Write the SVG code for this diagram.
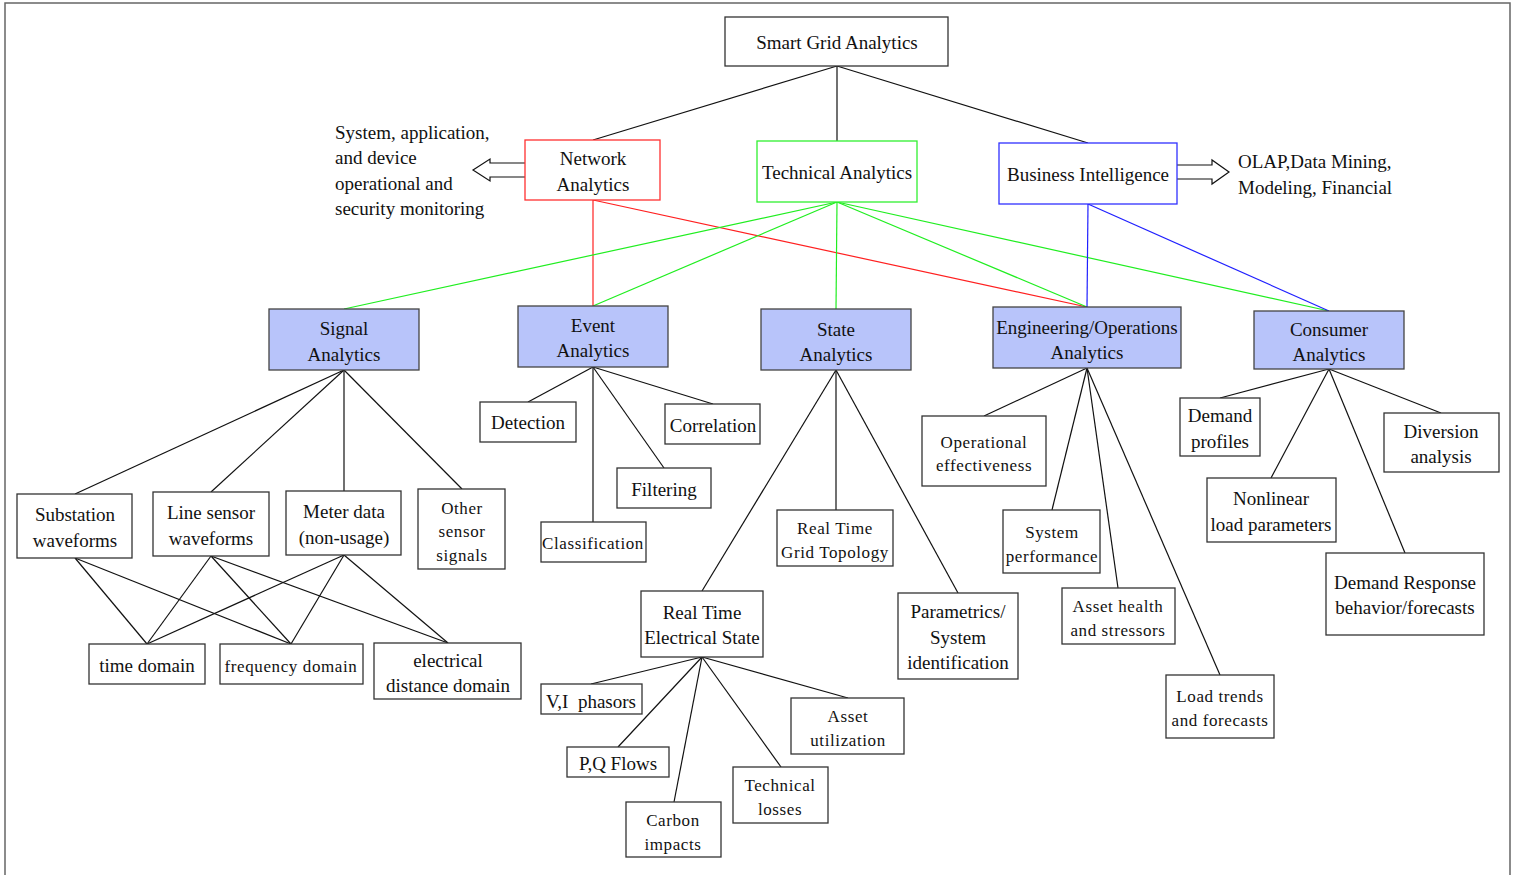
<svg xmlns="http://www.w3.org/2000/svg" width="1517" height="875" viewBox="0 0 1517 875">
<style>
text{font-family:"Liberation Serif","Times New Roman",serif;font-size:19px;fill:#111;text-anchor:middle}
text.s{font-size:17px;letter-spacing:0.6px}
text.l{text-anchor:start}
rect{fill:#fff;stroke:#333;stroke-width:1.3}
rect.a{fill:#b8c4fa;stroke:#444}
rect.rb{stroke:#ff3030}
rect.gb{stroke:#30f030}
rect.bb{stroke:#3030ff}
line{stroke-width:1.2}
.k line{stroke:#111}
line.r{stroke:#ff2020}
line.g{stroke:#20ee20}
line.b{stroke:#2020ff}
.arr{fill:#fff;stroke:#111;stroke-width:1.2}
</style>
<rect x="0" y="0" width="1517" height="875" style="fill:#fff;stroke:none"/>
<path d="M5,875 V3 H1510 V875" fill="none" stroke="#666" stroke-width="1.5"/>

<g id="connectors" class="k">
<line x1="837" y1="66" x2="593" y2="140"/>
<line x1="837" y1="66" x2="837" y2="141"/>
<line x1="837" y1="66" x2="1088" y2="143"/>
<line class="r" x1="593" y1="200" x2="593" y2="306"/>
<line class="r" x1="593" y1="200" x2="1087" y2="307"/>
<line class="g" x1="837" y1="202" x2="344" y2="309"/>
<line class="g" x1="837" y1="202" x2="593" y2="306"/>
<line class="g" x1="837" y1="202" x2="836" y2="309"/>
<line class="g" x1="837" y1="202" x2="1087" y2="307"/>
<line class="g" x1="837" y1="202" x2="1329" y2="311"/>
<line class="b" x1="1088" y1="204" x2="1087" y2="307"/>
<line class="b" x1="1088" y1="204" x2="1329" y2="311"/>
<line x1="344" y1="370" x2="75" y2="494"/>
<line x1="344" y1="370" x2="211" y2="492"/>
<line x1="344" y1="370" x2="344" y2="491"/>
<line x1="344" y1="370" x2="462" y2="489"/>
<line x1="75" y1="558" x2="147" y2="644"/>
<line x1="75" y1="558" x2="291" y2="644"/>
<line x1="211" y1="556" x2="147" y2="644"/>
<line x1="211" y1="556" x2="291" y2="644"/>
<line x1="211" y1="556" x2="448" y2="643"/>
<line x1="344" y1="555" x2="147" y2="644"/>
<line x1="344" y1="555" x2="291" y2="644"/>
<line x1="344" y1="555" x2="448" y2="643"/>
<line x1="593" y1="367" x2="528" y2="402"/>
<line x1="593" y1="367" x2="713" y2="404"/>
<line x1="593" y1="367" x2="664" y2="468"/>
<line x1="593" y1="367" x2="593" y2="522"/>
<line x1="836" y1="370" x2="836" y2="510"/>
<line x1="836" y1="370" x2="702" y2="591"/>
<line x1="836" y1="370" x2="958" y2="593"/>
<line x1="702" y1="657" x2="591" y2="684"/>
<line x1="702" y1="657" x2="618" y2="747"/>
<line x1="702" y1="657" x2="674" y2="802"/>
<line x1="702" y1="657" x2="781" y2="767"/>
<line x1="702" y1="657" x2="848" y2="698"/>
<line x1="1087" y1="368" x2="984" y2="416"/>
<line x1="1087" y1="368" x2="1052" y2="510"/>
<line x1="1087" y1="368" x2="1118" y2="588"/>
<line x1="1087" y1="368" x2="1220" y2="675"/>
<line x1="1329" y1="369" x2="1220" y2="398"/>
<line x1="1329" y1="369" x2="1441" y2="413"/>
<line x1="1329" y1="369" x2="1271" y2="478"/>
<line x1="1329" y1="369" x2="1405" y2="553"/>
<path class="arr" d="M525,163 H490 V159 L473,170 L490,181 V177 H525"/>
<path class="arr" d="M1177,165 H1212 V160 L1229,172 L1212,184 V179 H1177"/>
</g>

<g id="smart-grid-analytics"><rect x="725" y="17" width="223" height="49"/><text x="837" y="49">Smart Grid Analytics</text></g>
<g id="network-analytics"><rect class="rb" x="525" y="140" width="135" height="60"/><text x="593" y="165">Network</text><text x="593" y="191">Analytics</text></g>
<g id="technical-analytics"><rect class="gb" x="757" y="141" width="160" height="61"/><text x="837" y="179">Technical Analytics</text></g>
<g id="business-intelligence"><rect class="bb" x="999" y="143" width="178" height="61"/><text x="1088" y="181">Business Intelligence</text></g>
<g id="network-note"><text class="l" x="335" y="139">System, application,</text><text class="l" x="335" y="164">and device</text><text class="l" x="335" y="190">operational and</text><text class="l" x="335" y="215">security monitoring</text></g>
<g id="bi-note"><text class="l" x="1238" y="168">OLAP,Data Mining,</text><text class="l" x="1238" y="194">Modeling, Financial</text></g>

<g id="signal-analytics"><rect class="a" x="269" y="309" width="150" height="61"/><text x="344" y="335">Signal</text><text x="344" y="361">Analytics</text></g>
<g id="event-analytics"><rect class="a" x="518" y="306" width="150" height="61"/><text x="593" y="332">Event</text><text x="593" y="357">Analytics</text></g>
<g id="state-analytics"><rect class="a" x="761" y="309" width="150" height="61"/><text x="836" y="336">State</text><text x="836" y="361">Analytics</text></g>
<g id="engineering-analytics"><rect class="a" x="993" y="307" width="188" height="61"/><text x="1087" y="334">Engineering/Operations</text><text x="1087" y="359">Analytics</text></g>
<g id="consumer-analytics"><rect class="a" x="1254" y="311" width="150" height="58"/><text x="1329" y="336">Consumer</text><text x="1329" y="361">Analytics</text></g>

<g id="substation-waveforms"><rect x="17" y="494" width="115" height="64"/><text x="75" y="521">Substation</text><text x="75" y="547">waveforms</text></g>
<g id="line-sensor-waveforms"><rect x="153" y="492" width="116" height="64"/><text x="211" y="519">Line sensor</text><text x="211" y="545">waveforms</text></g>
<g id="meter-data"><rect x="286" y="491" width="115" height="64"/><text x="344" y="518">Meter data</text><text x="344" y="544">(non-usage)</text></g>
<g id="other-sensor-signals"><rect x="418" y="489" width="87" height="80"/><text class="s" x="462" y="514">Other</text><text class="s" x="462" y="537">sensor</text><text class="s" x="462" y="561">signals</text></g>
<g id="time-domain"><rect x="89" y="644" width="116" height="40"/><text x="147" y="672">time domain</text></g>
<g id="frequency-domain"><rect x="220" y="644" width="143" height="40"/><text class="s" x="291" y="672">frequency domain</text></g>
<g id="electrical-distance-domain"><rect x="374" y="643" width="147" height="56"/><text x="448" y="667">electrical</text><text x="448" y="692">distance domain</text></g>

<g id="detection"><rect x="480" y="402" width="96" height="40"/><text x="528" y="429">Detection</text></g>
<g id="correlation"><rect x="665" y="404" width="95" height="40"/><text x="713" y="432">Correlation</text></g>
<g id="filtering"><rect x="617" y="468" width="94" height="40"/><text x="664" y="496">Filtering</text></g>
<g id="classification"><rect x="541" y="522" width="105" height="40"/><text class="s" x="593" y="549">Classification</text></g>

<g id="grid-topology"><rect x="777" y="510" width="116" height="56"/><text class="s" x="835" y="534">Real Time</text><text class="s" x="835" y="558">Grid Topology</text></g>
<g id="electrical-state"><rect x="641" y="591" width="122" height="66"/><text x="702" y="619">Real Time</text><text x="702" y="644">Electrical State</text></g>
<g id="parametrics"><rect x="898" y="593" width="120" height="86"/><text x="958" y="618">Parametrics/</text><text x="958" y="644">System</text><text x="958" y="669">identification</text></g>

<g id="vi-phasors"><rect x="541" y="684" width="101" height="30"/><text x="591" y="708" xml:space="preserve">V,I  phasors</text></g>
<g id="pq-flows"><rect x="567" y="747" width="102" height="30"/><text x="618" y="770">P,Q Flows</text></g>
<g id="carbon-impacts"><rect x="626" y="802" width="95" height="55"/><text class="s" x="673" y="826">Carbon</text><text class="s" x="673" y="850">impacts</text></g>
<g id="technical-losses"><rect x="733" y="767" width="95" height="56"/><text class="s" x="780" y="791">Technical</text><text class="s" x="780" y="815">losses</text></g>
<g id="asset-utilization"><rect x="791" y="698" width="113" height="56"/><text class="s" x="848" y="722">Asset</text><text class="s" x="848" y="746">utilization</text></g>

<g id="operational-effectiveness"><rect x="922" y="416" width="124" height="70"/><text class="s" x="984" y="448">Operational</text><text class="s" x="984" y="471">effectiveness</text></g>
<g id="system-performance"><rect x="1003" y="510" width="97" height="63"/><text class="s" x="1052" y="538">System</text><text class="s" x="1052" y="562">performance</text></g>
<g id="asset-health"><rect x="1062" y="588" width="113" height="56"/><text class="s" x="1118" y="612">Asset health</text><text class="s" x="1118" y="636">and stressors</text></g>
<g id="load-trends"><rect x="1166" y="675" width="108" height="63"/><text class="s" x="1220" y="702">Load trends</text><text class="s" x="1220" y="726">and forecasts</text></g>

<g id="demand-profiles"><rect x="1180" y="398" width="80" height="58"/><text x="1220" y="422">Demand</text><text x="1220" y="448">profiles</text></g>
<g id="diversion-analysis"><rect x="1384" y="413" width="115" height="59"/><text x="1441" y="438">Diversion</text><text x="1441" y="463">analysis</text></g>
<g id="nonlinear-load"><rect x="1207" y="478" width="129" height="64"/><text x="1271" y="505">Nonlinear</text><text x="1271" y="531">load parameters</text></g>
<g id="demand-response"><rect x="1326" y="553" width="158" height="82"/><text x="1405" y="589">Demand Response</text><text x="1405" y="614">behavior/forecasts</text></g>
</svg>
